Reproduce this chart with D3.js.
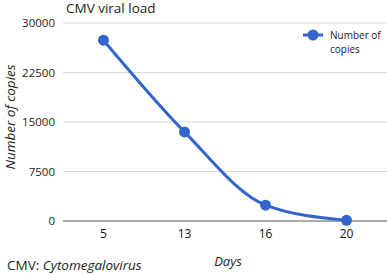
<!DOCTYPE html>
<html>
<head>
<meta charset="utf-8">
<script src="https://cdn.jsdelivr.net/npm/d3@7"></script>
<style>
  body { margin: 0; background: #fff; }
  text { font-family: "Open Sans", "DejaVu Sans", sans-serif; }
</style>
</head>
<body>
<div id="chart"></div>
<script>
const days = ["5", "13", "16", "20"];
const copies = [27400, 13500, 2400, 100];
const yTicks = [0, 7500, 15000, 22500, 30000];

const width = 387, height = 274,
  margin = {top: 23, right: 0, bottom: 53, left: 63};

const data = days.map((d, i) => ({day: d, num: copies[i]}));

let svg = d3.select("#chart").append("svg")
  .attr("width", width).attr("height", height);

let x = d3.scaleBand()
  .domain(days)
  .range([margin.left, width - margin.right]);

let y = d3.scaleLinear()
  .domain([0, 30000])
  .range([height - margin.bottom, margin.top]);

// gridlines
svg.append("g")
  .selectAll("line")
  .data(yTicks.filter(t => t > 0))
  .join("line")
  .attr("x1", margin.left).attr("x2", width - margin.right)
  .attr("y1", d => y(d)).attr("y2", d => y(d))
  .attr("stroke", "#d9d9d9").attr("stroke-width", 1);

// baseline
svg.append("line")
  .attr("x1", margin.left).attr("x2", width)
  .attr("y1", y(0)).attr("y2", y(0))
  .attr("stroke", "#555").attr("stroke-width", 1);

// y tick labels
svg.append("g")
  .selectAll("text")
  .data(yTicks)
  .join("text")
  .attr("x", margin.left - 8)
  .attr("y", d => y(d) + 4)
  .attr("text-anchor", "end")
  .attr("font-size", 11.5)
  .attr("fill", "#222")
  .text(d => d);

// x tick labels
svg.append("g")
  .selectAll("text")
  .data(days)
  .join("text")
  .attr("x", d => x(d) + x.bandwidth() / 2)
  .attr("y", y(0) + 17)
  .attr("text-anchor", "middle")
  .attr("font-size", 12)
  .attr("fill", "#111")
  .text(d => d);

// smoothed line like the source
const line = d3.line()
  .x(d => x(d.day) + x.bandwidth() / 2)
  .y(d => y(d.num))
  .curve(d3.curveMonotoneX);

svg.append("path")
  .datum(data)
  .attr("fill", "none")
  .attr("stroke", "#3366cc")
  .attr("stroke-width", 3)
  .attr("d", line);

svg.append("g")
  .selectAll("circle")
  .data(data)
  .join("circle")
  .attr("cx", d => x(d.day) + x.bandwidth() / 2)
  .attr("cy", d => y(d.num))
  .attr("r", 5.5)
  .attr("fill", "#3366cc");

// title
svg.append("text")
  .attr("x", 66).attr("y", 13)
  .attr("font-size", 13.5)
  .attr("fill", "#222")
  .text("CMV viral load");

// axis titles
svg.append("text")
  .attr("transform", "translate(15, 117) rotate(-90)")
  .attr("text-anchor", "middle")
  .attr("font-size", 13.5)
  .attr("font-style", "italic")
  .attr("fill", "#222")
  .text("Number of copies");

svg.append("text")
  .attr("x", 228).attr("y", 266)
  .attr("text-anchor", "middle")
  .attr("font-size", 13)
  .attr("font-style", "italic")
  .attr("fill", "#222")
  .text("Days");

// legend
let legend = svg.append("g");
legend.append("line")
  .attr("x1", 303).attr("x2", 323)
  .attr("y1", 35).attr("y2", 35)
  .attr("stroke", "#3366cc").attr("stroke-width", 3);
legend.append("circle")
  .attr("cx", 313).attr("cy", 35).attr("r", 5.5)
  .attr("fill", "#3366cc");
legend.append("text")
  .attr("x", 330).attr("y", 39)
  .attr("font-size", 10)
  .attr("fill", "#222")
  .text("Number of");
legend.append("text")
  .attr("x", 330).attr("y", 53)
  .attr("font-size", 10)
  .attr("fill", "#222")
  .text("copies");

// footnote
let foot = svg.append("text")
  .attr("x", 7).attr("y", 270)
  .attr("font-size", 13.5)
  .attr("fill", "#222");
foot.append("tspan").text("CMV: ");
foot.append("tspan").attr("font-style", "italic").text("Cytomegalovirus");
</script>
</body>
</html>
